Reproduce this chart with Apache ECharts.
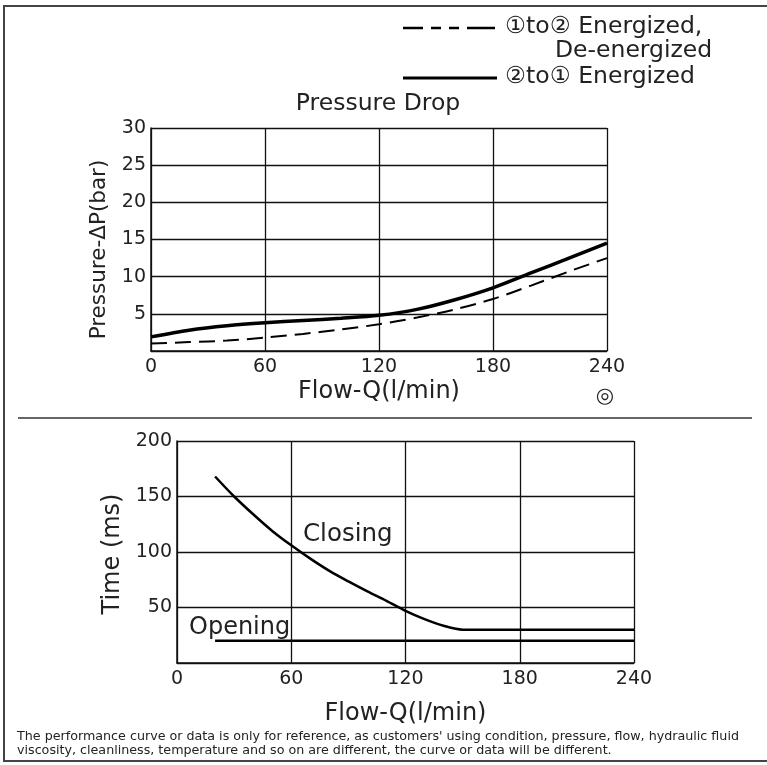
<!DOCTYPE html>
<html><head><meta charset="utf-8">
<script src="https://cdn.jsdelivr.net/npm/echarts@6/dist/echarts.min.js"></script>
<style>html,body{margin:0;padding:0;background:#fff}#c{width:767px;height:765px}</style>
</head><body><div id="c"></div>
<script>
// Pressure drop chart
const pdFlow = [0, 20, 40, 60, 80, 100, 120, 140, 160, 180, 200, 220, 240];
const pdSolid = [1.9, 2.8, 3.4, 3.8, 4.1, 4.4, 4.8, 5.6, 6.9, 8.5, 10.5, 12.5, 14.5];
const pdDash = [1.0, 1.2, 1.4, 1.8, 2.3, 2.9, 3.6, 4.5, 5.6, 7.0, 8.8, 10.7, 12.5];
// Response time chart
const tClosingFlow = [20, 30, 40, 50, 60, 70, 80, 90, 100, 110, 120, 130, 140, 150, 240];
const tClosing = [168, 150, 134, 119, 106, 94, 83, 73.5, 64.5, 56, 47, 39.5, 33.5, 30, 30];
const tOpeningFlow = [20, 240];
const tOpening = [20, 20];
const xTicks = [0, 60, 120, 180, 240];
const pdYTicks = [5, 10, 15, 20, 25, 30];
const tYTicks = [50, 100, 150, 200];

const FF = 'DejaVu Sans';
const zip = (a, b) => a.map((v, i) => [v, b[i]]);
const chart = echarts.init(document.getElementById('c'));
const lab = {color: '#222', fontFamily: FF, fontSize: 19};
const axisCommon = {
  axisLine: {show: true, lineStyle: {color: '#111', width: 1.5}},
  axisTick: {show: false},
  splitLine: {show: true, lineStyle: {color: '#111', width: 1.3}}
};
chart.setOption({
  animation: false,
  grid: [
    {left: 151, top: 128, width: 456, height: 223},
    {left: 177, top: 441, width: 457, height: 222}
  ],
  xAxis: [
    Object.assign({}, axisCommon, {gridIndex: 0, type: 'value', min: 0, max: 240, interval: 60,
      name: 'Flow-Q(l/min)', nameLocation: 'middle', nameGap: 29,
      nameTextStyle: {color: '#222', fontFamily: FF, fontSize: 24},
      axisLabel: Object.assign({}, lab, {margin: 7, formatter: v => xTicks.includes(v) ? String(v) : ''})}),
    Object.assign({}, axisCommon, {gridIndex: 1, type: 'value', min: 0, max: 240, interval: 60,
      name: 'Flow-Q(l/min)', nameLocation: 'middle', nameGap: 39,
      nameTextStyle: {color: '#222', fontFamily: FF, fontSize: 24},
      axisLabel: Object.assign({}, lab, {margin: 7, formatter: v => xTicks.includes(v) ? String(v) : ''})})
  ],
  yAxis: [
    Object.assign({}, axisCommon, {gridIndex: 0, type: 'value', min: 0, max: 30, interval: 5,
      name: 'Pressure-\u0394P(bar)', nameLocation: 'middle', nameGap: 41,
      nameTextStyle: {color: '#222', fontFamily: FF, fontSize: 21.5, padding: [0, 20, 0, 0]},
      axisLabel: Object.assign({}, lab, {margin: 5,
        formatter: v => pdYTicks.includes(v) ? String(v) : ''})}),
    Object.assign({}, axisCommon, {gridIndex: 1, type: 'value', min: 0, max: 200, interval: 50,
      name: 'Time (ms)', nameLocation: 'middle', nameGap: 35,
      nameTextStyle: {color: '#222', fontFamily: FF, fontSize: 24, padding: [0, 4, 0, 0]},
      axisLabel: Object.assign({}, lab, {margin: 5,
        formatter: v => tYTicks.includes(v) ? String(v) : ''})})
  ],
  series: [
    {type: 'line', xAxisIndex: 0, yAxisIndex: 0, data: zip(pdFlow, pdDash), smooth: 0.3,
      symbol: 'none', lineStyle: {color: '#000', width: 2, type: [16, 8]}},
    {type: 'line', xAxisIndex: 0, yAxisIndex: 0, data: zip(pdFlow, pdSolid), smooth: 0.3,
      symbol: 'none', lineStyle: {color: '#000', width: 3.5}},
    {type: 'line', xAxisIndex: 1, yAxisIndex: 1, data: zip(tClosingFlow, tClosing), smooth: 0.3,
      symbol: 'none', lineStyle: {color: '#000', width: 2.5}},
    {type: 'line', xAxisIndex: 1, yAxisIndex: 1, data: zip(tOpeningFlow, tOpening),
      symbol: 'none', lineStyle: {color: '#000', width: 2.5}}
  ],
  graphic: [
    {type: 'rect', shape: {x: 4, y: 6, width: 800, height: 755}, style: {fill: 'none', stroke: '#444', lineWidth: 2}, silent: true},
    {type: 'line', shape: {x1: 18, y1: 418, x2: 752, y2: 418}, style: {stroke: '#333', lineWidth: 1.5}},
    {type: 'line', shape: {x1: 403, y1: 28, x2: 495, y2: 28}, style: {stroke: '#000', lineWidth: 2.5, lineDash: [20, 8, 10, 8, 10, 8, 28]}},
    {type: 'line', shape: {x1: 403, y1: 78, x2: 497, y2: 78}, style: {stroke: '#000', lineWidth: 3}},
    {type: 'text', x: 505, y: 27, style: {text: '\u2460to\u2461 Energized,', fontFamily: FF, fontSize: 23.5, fill: '#222', verticalAlign: 'middle'}},
    {type: 'text', x: 555, y: 51, style: {text: 'De-energized', fontFamily: FF, fontSize: 23.5, fill: '#222', verticalAlign: 'middle'}},
    {type: 'text', x: 505, y: 77, style: {text: '\u2461to\u2460 Energized', fontFamily: FF, fontSize: 23.5, fill: '#222', verticalAlign: 'middle'}},
    {type: 'text', x: 378, y: 104, style: {text: 'Pressure Drop', fontFamily: FF, fontSize: 23.5, fill: '#222', align: 'center', verticalAlign: 'middle'}},
    {type: 'text', x: 605, y: 397, style: {text: '\u25CE', fontFamily: FF, fontSize: 21, fill: '#222', align: 'center', verticalAlign: 'middle'}},
    {type: 'text', x: 303, y: 535, style: {text: 'Closing', fontFamily: FF, fontSize: 24.5, fill: '#222', verticalAlign: 'middle'}},
    {type: 'text', x: 189, y: 628, style: {text: 'Opening', fontFamily: FF, fontSize: 24, fill: '#222', verticalAlign: 'middle'}},
    {type: 'text', x: 17, y: 737, style: {text: "The performance curve or data is only for reference, as customers' using condition, pressure, flow, hydraulic fluid", fontFamily: FF, fontSize: 12.7, fill: '#222', verticalAlign: 'middle'}},
    {type: 'text', x: 17, y: 751, style: {text: 'viscosity, cleanliness, temperature and so on are different, the curve or data will be different.', fontFamily: FF, fontSize: 12.7, fill: '#222', verticalAlign: 'middle'}}
  ]
});
</script></body></html>
